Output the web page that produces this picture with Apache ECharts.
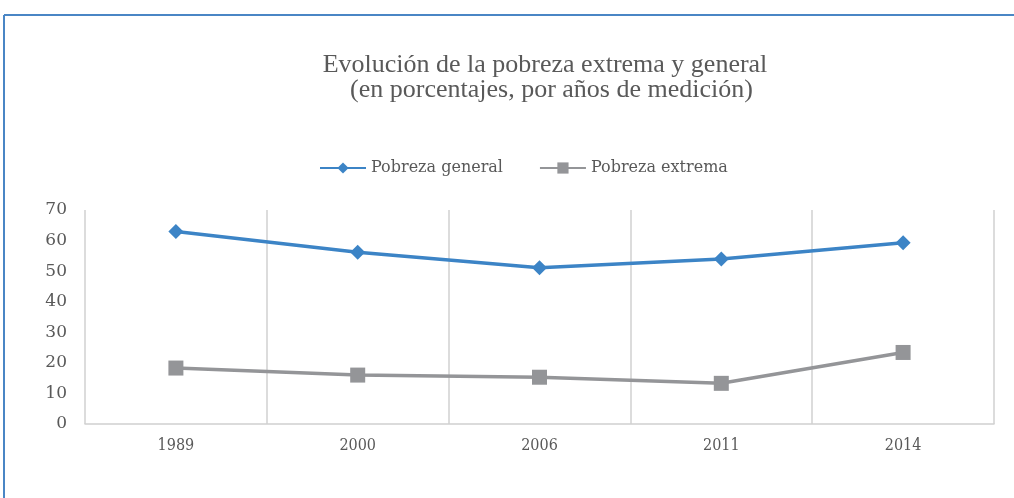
<!DOCTYPE html>
<html><head><meta charset="utf-8">
<script src="https://cdn.jsdelivr.net/npm/echarts@6/dist/echarts.min.js"></script>
<style>html,body{margin:0;padding:0;background:#fff}#c{width:1014px;height:498px}</style>
</head><body><div id="c"></div>
<script>
const categories = ['1989', '2000', '2006', '2011', '2014'];
const pobrezaGeneral = [63.0, 56.2, 51.1, 54.0, 59.3];
const pobrezaExtrema = [18.3, 16.0, 15.3, 13.3, 23.4];
const yTicks = { min: 0, max: 70, interval: 10 };

const chart = echarts.init(document.getElementById('c'));
chart.setOption({
  animation: false,
  backgroundColor: '#fff',
  title: {
    text: 'Evolución de la pobreza extrema y general\n  (en porcentajes, por años de medición)',
    left: 540, top: 48, textAlign: 'center',
    textStyle: { fontFamily: 'Liberation Serif', fontWeight: 'normal', fontSize: 26, color: '#595959', lineHeight: 25 }
  },
  legend: {
    top: 155, left: 314,
    itemWidth: 46, itemHeight: 14, itemGap: 36,
    textStyle: { fontFamily: 'DejaVu Serif', fontSize: 16, color: '#595959' },
    data: ['Pobreza general', 'Pobreza extrema']
  },
  grid: { left: 85, right: 20, top: 210, bottom: 74 },
  xAxis: {
    type: 'category', data: categories, boundaryGap: true,
    axisLine: { lineStyle: { color: '#d0d0d0', width: 1.5 } },
    axisTick: { show: false },
    splitLine: { show: true, lineStyle: { color: '#d0d0d0', width: 1.5 } },
    axisLabel: { fontFamily: 'DejaVu Serif Condensed', fontSize: 16, color: '#595959', margin: 14 }
  },
  yAxis: {
    type: 'value', min: yTicks.min, max: yTicks.max, interval: yTicks.interval,
    axisLine: { show: false }, axisTick: { show: false },
    splitLine: { show: false },
    axisLabel: { fontFamily: 'DejaVu Serif', fontSize: 17, color: '#595959', margin: 18 }
  },
  graphic: [
    { type: 'line', shape: { x1: 4, y1: 15, x2: 1014, y2: 15 }, style: { stroke: '#4a86c5', lineWidth: 2 } },
    { type: 'line', shape: { x1: 4, y1: 15, x2: 4, y2: 498 }, style: { stroke: '#4a86c5', lineWidth: 2 } }
  ],
  series: [
    { name: 'Pobreza general', type: 'line', data: pobrezaGeneral,
      symbol: 'diamond', symbolSize: 15,
      lineStyle: { color: '#3c84c6', width: 3.5 }, itemStyle: { color: '#3c84c6' } },
    { name: 'Pobreza extrema', type: 'line', data: pobrezaExtrema,
      symbol: 'rect', symbolSize: 15,
      lineStyle: { color: '#949598', width: 3.5 }, itemStyle: { color: '#949598' } }
  ]
});
</script></body></html>
